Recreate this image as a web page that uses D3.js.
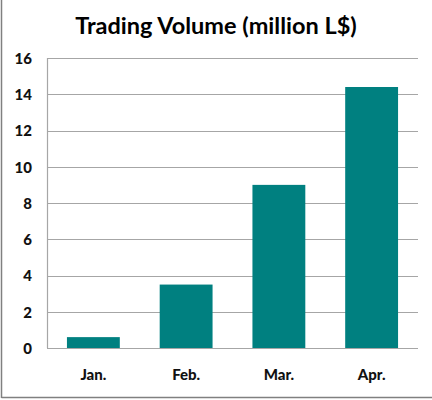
<!DOCTYPE html>
<html><head><meta charset="utf-8">
<script src="https://cdn.jsdelivr.net/npm/d3@7"></script>
<style>body{margin:0;background:#fff}svg{display:block}</style>
</head><body>
<script>
const categories = ["Jan.", "Feb.", "Mar.", "Apr."];
const values = [0.6, 3.5, 9.0, 14.4];
const yTicks = [0, 2, 4, 6, 8, 10, 12, 14, 16];
const title = "Trading Volume (million L$)";

const W = 432, H = 400;
const m = {left: 47, right: 14, top: 58, bottom: 52};
const svg = d3.select("body").append("svg").attr("width", W).attr("height", H);
svg.append("rect").attr("width", W).attr("height", H).attr("fill", "#fff");
// frame
svg.append("line").attr("x1", 1.5).attr("x2", 1.5).attr("y1", 0).attr("y2", 398).attr("stroke", "#808080").attr("stroke-width", 1.5);
svg.append("line").attr("x1", 1.5).attr("x2", W).attr("y1", 397.5).attr("y2", 397.5).attr("stroke", "#808080").attr("stroke-width", 1.5);

const x = d3.scaleBand().domain(categories).range([m.left, W - m.right]).paddingInner(0.43).paddingOuter(0.215);
const y = d3.scaleLinear().domain([0, 16]).range([H - m.bottom, m.top]);

const g = svg.append("g");
g.selectAll(".grid").data(yTicks).join("line")
  .attr("x1", m.left).attr("x2", W - m.right)
  .attr("y1", d => Math.round(y(d)) + 0.5).attr("y2", d => Math.round(y(d)) + 0.5)
  .attr("stroke", "#a6a6a6").attr("stroke-width", 1.2);
g.append("line").attr("x1", m.left + 0.5).attr("x2", m.left + 0.5).attr("y1", y(16)).attr("y2", y(0))
  .attr("stroke", "#a6a6a6").attr("stroke-width", 1.2);

g.selectAll(".bar").data(values).join("rect")
  .attr("x", (d, i) => x(categories[i])).attr("width", x.bandwidth())
  .attr("y", d => y(d)).attr("height", d => y(0) - y(d))
  .attr("fill", "#008080");

const font = "Lato, 'Open Sans', sans-serif";
const yAxis = d3.axisLeft(y).tickValues(yTicks).tickSize(0).tickPadding(0);
const ya = svg.append("g").attr("transform", `translate(32,0)`).call(yAxis);
ya.select(".domain").remove();
ya.selectAll("text").attr("font-family", font).attr("font-weight", "900")
  .attr("font-size", 15).attr("fill", "#111").attr("dy", "0.35em");

const xAxis = d3.axisBottom(x).tickSize(0).tickPadding(0);
const xa = svg.append("g").attr("transform", `translate(0,${y(0) + 21})`).call(xAxis);
xa.select(".domain").remove();
xa.selectAll("text").attr("font-family", font).attr("font-weight", "900")
  .attr("font-size", 15).attr("fill", "#111").attr("dy", "0.71em");

svg.append("text").attr("x", 216).attr("y", 34).attr("text-anchor", "middle")
  .attr("font-family", font).attr("font-weight", "bold")
  .attr("font-size", 23.5).attr("fill", "#000").text(title);
</script>
</body></html>
